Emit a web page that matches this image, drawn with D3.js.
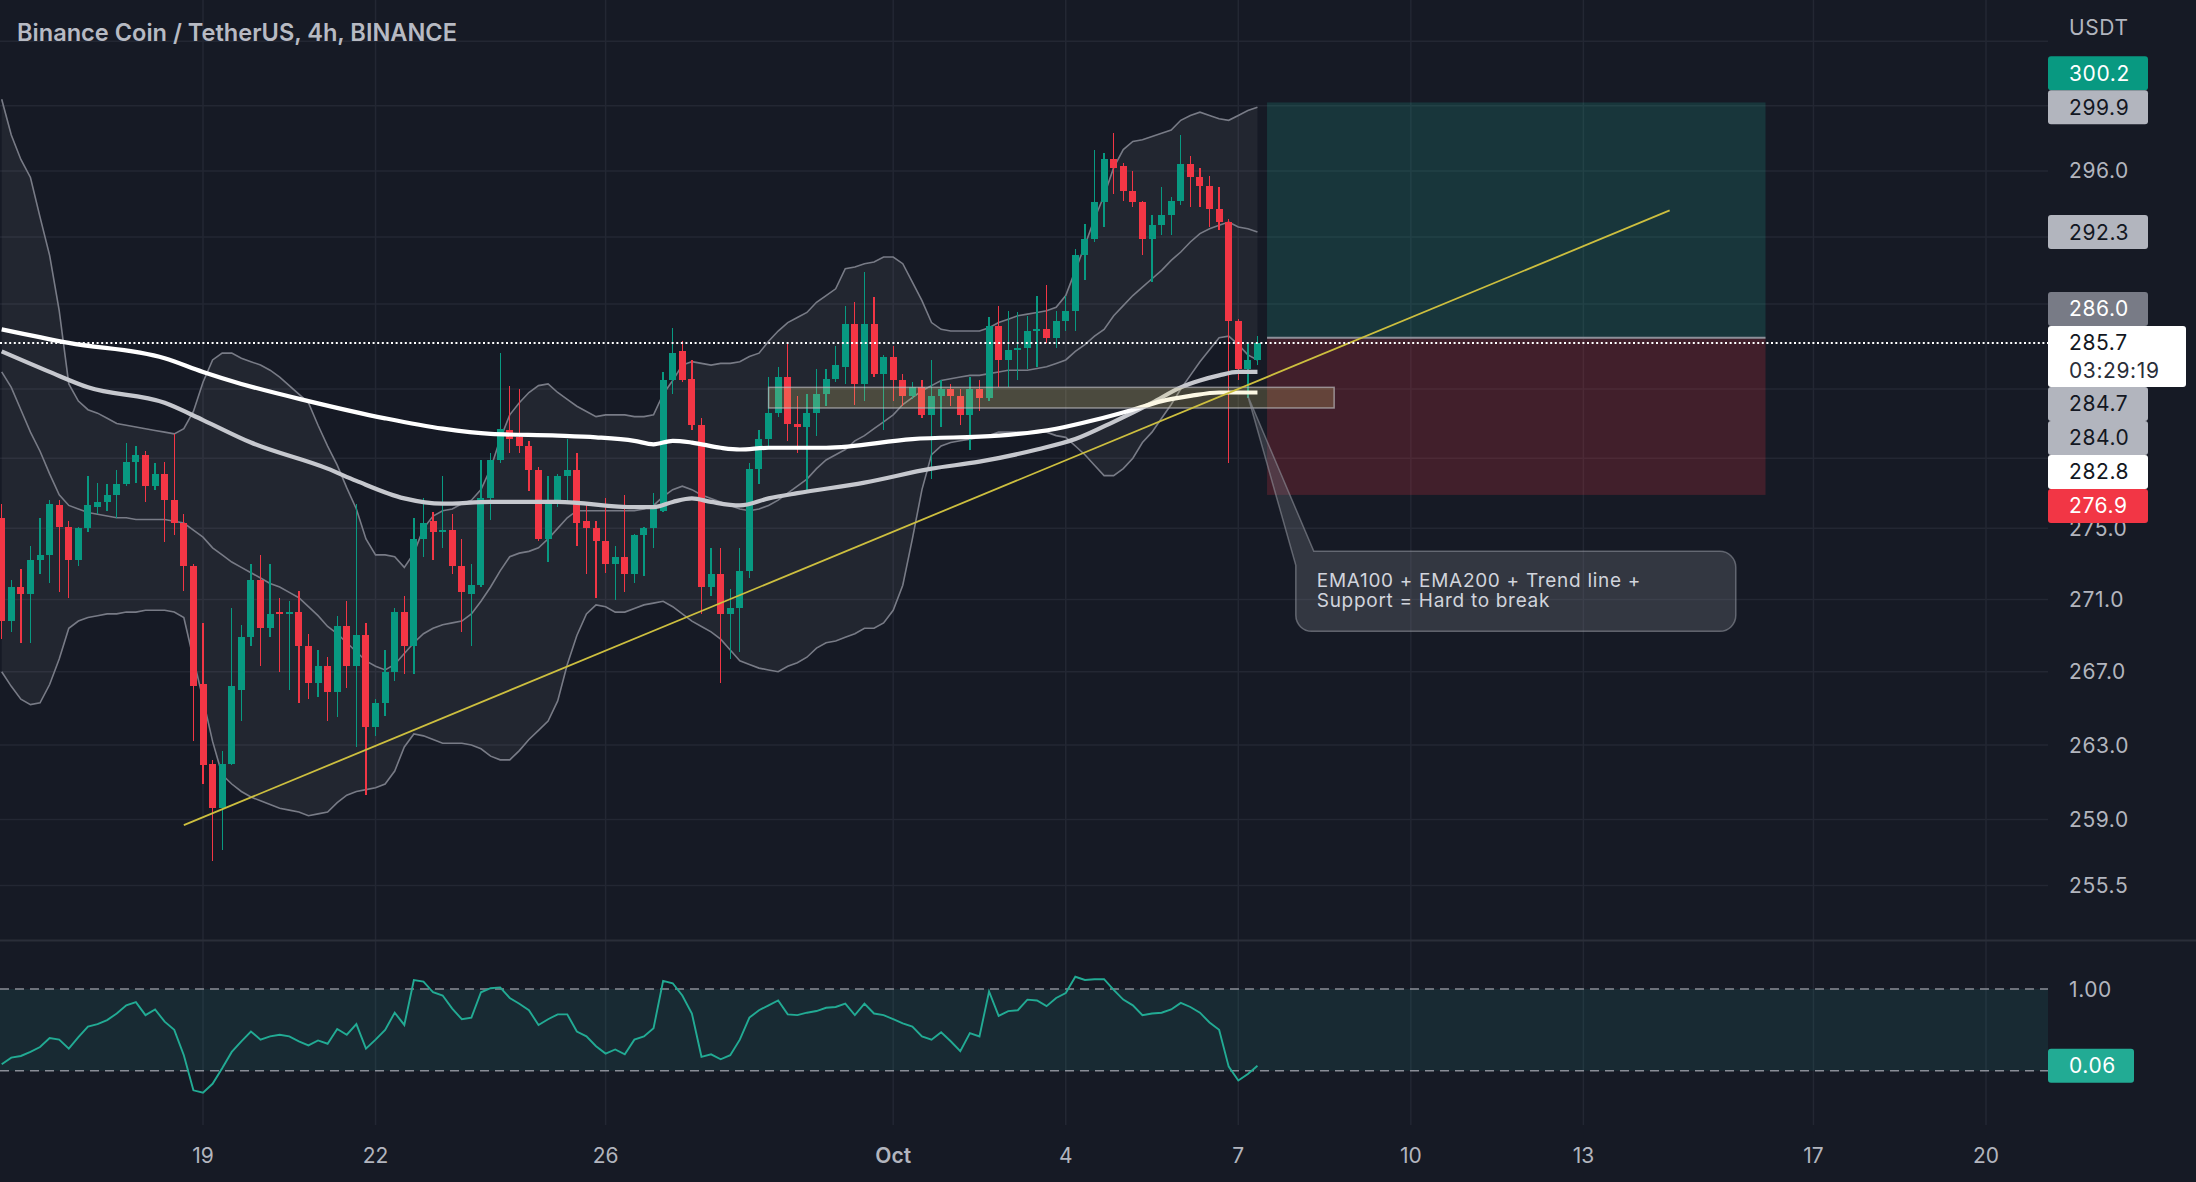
<!DOCTYPE html>
<html>
<head>
<meta charset="utf-8">
<script src="https://cdn.jsdelivr.net/npm/d3@7"></script>
<style>
  html, body { margin: 0; padding: 0; background: #161a25; }
  svg { display: block; }
  text { font-family: Inter, Roboto, sans-serif; }
</style>
</head>
<body>
<svg id="chart" width="2196" height="1182"></svg>
<script>
'use strict';

// BNB/USDT 4h bars, first visible bar 2022-09-15 12:00 UTC
const firstBar = Date.UTC(2022, 8, 15, 12);
const barMs = 4 * 3600 * 1000;

const open = [
  275.6, 269.8, 271.7, 271.3, 273.2, 273.5, 276.3, 275.1, 273.2, 275.0,
  276.2, 276.5, 276.9, 277.5, 278.8, 279.2, 277.4, 278.1, 276.6, 275.3,
  272.9, 266.3, 262.0, 259.6, 262.0, 266.0, 268.9, 272.1, 269.4, 270.3,
  270.2, 270.3, 268.4, 266.4, 267.3, 265.9, 269.5, 267.3, 269.0, 264.0,
  265.3, 267.0, 270.3, 268.4, 274.4, 275.4, 274.8, 274.9, 272.9, 271.3,
  271.8, 276.7, 278.9, 280.6, 280.2, 279.7, 278.3, 274.4, 276.4, 278.0,
  278.3, 275.4, 275.0, 274.3, 273.0, 273.4, 272.4, 274.6, 275.0, 276.0,
  283.5, 285.2, 283.6, 280.9, 271.7, 272.4, 270.2, 270.5, 272.6, 278.4,
  280.1, 281.6, 283.7, 281.0, 280.8, 281.6, 282.7, 283.6, 284.3, 286.8,
  283.3, 286.8, 283.9, 284.9, 283.5, 282.6, 283.1, 281.5, 282.6, 283.0,
  282.6, 281.5, 283.0, 282.5, 286.7, 284.7, 285.3, 285.4, 286.4, 286.5,
  286.0, 287.0, 287.6, 290.9, 291.9, 294.1, 296.7, 296.3, 294.8, 294.1,
  291.9, 292.7, 293.3, 294.2, 296.4, 295.6, 295.1, 293.7, 292.9, 287.0,
  284.2, 284.7
];
const high = [
  276.4, 272.1, 272.7, 274.0, 275.6, 276.6, 276.6, 275.4, 275.1, 278.0,
  277.6, 277.5, 278.3, 279.9, 279.7, 279.4, 278.7, 278.8, 280.4, 275.8,
  273.0, 269.7, 262.2, 262.7, 270.5, 269.6, 273.0, 273.5, 273.0, 271.1,
  270.9, 271.5, 269.1, 268.2, 267.8, 270.1, 270.9, 276.4, 269.7, 265.5,
  268.2, 270.5, 271.2, 275.6, 276.7, 275.9, 278.0, 275.8, 274.4, 273.0,
  278.9, 279.3, 285.1, 283.2, 283.0, 280.0, 278.5, 278.0, 278.1, 280.1,
  279.3, 276.3, 275.4, 276.7, 274.0, 276.9, 274.7, 275.1, 277.0, 284.0,
  286.6, 285.8, 284.7, 281.3, 273.9, 273.9, 271.6, 273.9, 278.7, 280.6,
  283.7, 284.3, 285.7, 282.6, 282.7, 284.2, 284.2, 285.5, 287.9, 288.1,
  289.9, 288.4, 285.0, 285.5, 283.9, 283.4, 283.5, 284.7, 283.5, 283.3,
  283.0, 283.7, 283.5, 287.2, 287.9, 287.6, 287.5, 287.3, 288.5, 289.1,
  287.6, 288.5, 291.3, 292.8, 297.3, 297.1, 298.3, 296.5, 296.0, 294.2,
  293.3, 295.0, 294.4, 298.2, 296.9, 296.2, 295.7, 295.0, 293.1, 287.1,
  285.7, 286.1
];
const low = [
  268.8, 269.2, 268.6, 268.6, 272.4, 271.9, 271.4, 271.1, 272.9, 274.8,
  275.8, 276.0, 275.6, 277.4, 277.6, 276.5, 277.2, 274.2, 274.6, 271.5,
  263.2, 260.9, 256.8, 257.4, 261.9, 264.3, 268.4, 267.3, 268.9, 267.0,
  266.0, 265.3, 265.5, 265.6, 264.3, 264.5, 266.1, 262.9, 260.3, 263.5,
  264.6, 266.5, 266.9, 266.9, 273.4, 273.2, 273.9, 272.4, 269.2, 268.4,
  271.7, 275.5, 278.7, 279.3, 279.3, 277.1, 274.3, 273.1, 276.2, 276.4,
  274.0, 272.4, 271.1, 272.5, 271.0, 271.4, 271.9, 272.3, 273.9, 275.9,
  282.7, 283.4, 280.6, 270.2, 271.2, 266.4, 267.7, 268.1, 272.2, 277.5,
  279.7, 281.4, 280.0, 279.3, 277.2, 280.3, 282.0, 283.4, 283.3, 282.1,
  282.3, 283.7, 280.6, 282.3, 282.0, 282.4, 281.3, 277.8, 280.8, 282.0,
  280.9, 279.5, 281.7, 282.3, 283.1, 283.1, 283.5, 284.2, 284.3, 285.7,
  285.4, 286.4, 286.4, 289.4, 291.7, 292.6, 294.6, 294.2, 293.8, 290.9,
  289.3, 292.1, 292.1, 293.9, 293.8, 293.8, 292.6, 292.4, 278.7, 283.5,
  282.5, 284.4
];
const close = [
  269.8, 271.7, 271.3, 273.2, 273.5, 276.4, 275.1, 273.2, 275.0, 276.3,
  276.5, 276.9, 277.5, 278.8, 279.2, 277.4, 278.1, 276.6, 275.3, 272.9,
  266.2, 261.9, 259.6, 262.0, 266.2, 268.9, 272.1, 269.4, 270.2, 270.2,
  270.3, 268.4, 266.4, 267.3, 265.9, 269.5, 267.3, 269.0, 264.0, 265.3,
  267.0, 270.3, 268.4, 274.4, 275.3, 274.8, 274.9, 272.9, 271.4, 271.8,
  276.7, 278.9, 280.7, 280.1, 279.7, 278.3, 274.4, 276.4, 278.0, 278.3,
  275.3, 275.0, 274.3, 273.0, 273.4, 272.4, 274.6, 275.0, 276.2, 283.5,
  285.1, 283.5, 280.9, 271.7, 272.4, 270.2, 270.5, 272.6, 278.4, 280.1,
  281.6, 283.7, 281.0, 280.8, 281.6, 282.7, 283.6, 284.4, 286.8, 283.3,
  286.8, 283.9, 284.9, 283.5, 282.6, 283.1, 281.5, 282.6, 283.0, 282.6,
  281.5, 283.0, 282.5, 286.7, 284.7, 285.3, 285.4, 286.4, 286.5, 286.0,
  287.0, 287.6, 290.9, 291.9, 294.1, 296.7, 296.2, 294.8, 294.1, 291.9,
  292.7, 293.3, 294.2, 296.4, 295.6, 295.1, 293.7, 292.9, 287.0, 284.2,
  284.7, 285.7
];

// Bollinger bands, one value per bar
const bbUpper = [
  300.4, 298.2, 296.7, 295.6, 293.2, 290.9, 287.6, 283.3, 282.3, 281.8,
  281.6, 281.3, 281.0, 280.9, 280.8, 280.7, 280.6, 280.5, 280.4, 280.7,
  281.7, 283.4, 284.7, 285.1, 285.1, 284.8, 284.6, 284.4, 284.1, 283.7,
  283.2, 282.7, 282.2, 280.9, 279.7, 278.6, 277.3, 276.1, 274.4, 273.5,
  273.5, 273.4, 272.8, 273.6, 275.0, 275.7, 276.0, 276.1, 276.4, 276.6,
  277.2, 278.4, 280.1, 281.5, 282.2, 282.8, 283.2, 283.3, 282.8, 282.4,
  282.0, 281.7, 281.4, 281.5, 281.5, 281.5, 281.4, 281.4, 281.5, 282.7,
  283.5, 284.4, 284.6, 284.5, 284.4, 284.5, 284.5, 284.6, 284.9, 285.1,
  285.8, 286.4, 286.9, 287.2, 287.5, 288.1, 288.5, 288.9, 290.1, 290.2,
  290.4, 290.5, 290.8, 290.8, 290.4, 289.3, 288.2, 286.9, 286.5, 286.4,
  286.4, 286.4, 286.4, 286.6, 286.9, 287.1, 287.3, 287.4, 287.5, 287.6,
  287.8, 288.5, 290.0, 291.5, 293.1, 294.5, 296.2, 297.3, 297.8, 297.9,
  298.1, 298.3, 298.5, 299.1, 299.4, 299.6, 299.4, 299.2, 299.1, 299.4,
  299.7, 299.9
];
const bbBasis = [
  284.0, 283.1, 281.8, 280.5, 279.4, 278.1, 276.9, 276.3, 276.1, 275.9,
  275.8, 275.7, 275.6, 275.6, 275.5, 275.5, 275.5, 275.5, 275.4, 275.3,
  274.9, 274.5, 273.9, 273.5, 273.1, 272.8, 272.5, 272.2, 271.9, 271.7,
  271.4, 271.1, 270.6, 270.1, 269.5, 269.1, 268.6, 268.1, 267.6, 267.3,
  267.1, 267.4, 268.0, 268.6, 269.1, 269.4, 269.6, 269.7, 269.8, 270.2,
  270.9, 271.7, 272.6, 273.4, 273.6, 273.7, 273.9, 274.4, 275.0, 275.6,
  276.0, 276.0, 276.0, 276.0, 276.0, 276.0, 276.0, 276.1, 276.3, 276.8,
  277.2, 277.4, 277.2, 276.9, 276.7, 276.5, 276.3, 276.1, 276.0, 276.1,
  276.3, 276.6, 277.0, 277.4, 277.8, 278.4, 278.9, 279.2, 279.5, 280.0,
  280.3, 280.7, 281.1, 281.5, 282.1, 282.5, 282.9, 283.2, 283.5, 283.6,
  283.7, 283.8, 283.8, 283.9, 284.0, 284.1, 284.1, 284.1, 284.2, 284.3,
  284.5, 284.7, 285.2, 285.6, 286.1, 286.5, 287.3, 287.9, 288.5, 289.0,
  289.5, 290.0, 290.6, 291.1, 291.7, 292.2, 292.5, 292.7, 292.9, 292.6,
  292.5, 292.3
];
const bbLower = [
  267.0, 266.2, 265.5, 265.2, 265.3, 266.3, 267.7, 269.4, 269.8, 270.0,
  270.1, 270.2, 270.2, 270.3, 270.3, 270.4, 270.4, 270.4, 270.3, 270.0,
  267.7, 265.5, 263.2, 261.4, 260.9, 260.5, 260.2, 260.0, 259.8, 259.6,
  259.5, 259.4, 259.2, 259.3, 259.4, 259.9, 260.3, 260.5, 260.6, 260.7,
  260.9, 261.6, 262.9, 263.6, 263.5, 263.3, 263.1, 263.1, 263.1, 263.0,
  262.8, 262.4, 262.2, 262.2, 262.7, 263.3, 263.8, 264.3, 265.4, 267.4,
  269.0, 270.2, 270.7, 270.6, 270.3, 270.3, 270.5, 270.7, 270.8, 270.9,
  270.6, 270.2, 269.8, 269.5, 269.2, 268.8, 268.2, 267.6, 267.4, 267.2,
  267.1, 267.0, 267.3, 267.5, 267.8, 268.3, 268.6, 268.7, 268.9, 269.1,
  269.4, 269.4, 269.7, 270.4, 271.8, 274.4, 277.2, 279.2, 279.7, 279.9,
  280.0, 280.1, 280.2, 280.3, 280.5, 280.5, 280.5, 280.5, 280.5, 280.5,
  280.3, 280.2, 279.7, 279.2, 278.6, 278.0, 278.0, 278.4, 279.0, 279.9,
  280.5, 281.3, 282.1, 283.0, 283.8, 284.6, 285.3, 286.0, 286.1, 285.6,
  285.0, 284.7
];

// moving averages read at some bars: [bar, price]
const ema100 = [
  [0, 285.2], [5, 284.0], [9, 283.1], [17, 282.2], [21, 281.2], [26, 279.9],
  [34, 278.4], [37, 277.7], [42, 276.7], [46, 276.4], [51, 276.5], [58, 276.5],
  [66, 276.2], [68, 276.2], [70, 276.5], [72, 276.7], [74, 276.5], [77, 276.3],
  [80, 276.7], [83, 277.0], [90, 277.6], [97, 278.4], [102, 278.8], [108, 279.5],
  [112, 280.1], [116, 281.1], [120, 282.2], [123, 283.1], [125, 283.5],
  [127, 283.8], [129, 284.0], [131, 284.0]
];
const ema200 = [
  [0, 286.5], [7, 285.7], [17, 284.8], [21, 284.0], [25, 283.3], [32, 282.3],
  [40, 281.3], [46, 280.7], [51, 280.4], [58, 280.3], [62, 280.2], [66, 280.0],
  [68, 279.8], [70, 280.0], [72, 279.9], [75, 279.6], [77, 279.5], [80, 279.6],
  [86, 279.6], [95, 280.1], [104, 280.3], [110, 280.7], [114, 281.2],
  [118, 281.8], [121, 282.3], [124, 282.6], [127, 282.8], [131, 282.8]
];

// lower pane oscillator, one value per bar
const osc = [
  0.08, 0.16, 0.18, 0.23, 0.29, 0.40, 0.38, 0.27, 0.41, 0.54,
  0.57, 0.62, 0.70, 0.80, 0.84, 0.68, 0.75, 0.60, 0.50, 0.19,
  -0.24, -0.27, -0.16, 0.03, 0.23, 0.36, 0.48, 0.38, 0.42, 0.44,
  0.42, 0.36, 0.31, 0.37, 0.33, 0.51, 0.44, 0.57, 0.27, 0.38,
  0.50, 0.71, 0.56, 1.11, 1.09, 0.96, 0.92, 0.76, 0.63, 0.65,
  0.96, 1.01, 1.02, 0.89, 0.82, 0.74, 0.56, 0.63, 0.69, 0.69,
  0.48, 0.42, 0.30, 0.21, 0.26, 0.20, 0.38, 0.42, 0.52, 1.10,
  1.07, 0.92, 0.70, 0.17, 0.20, 0.14, 0.19, 0.38, 0.65, 0.74,
  0.80, 0.86, 0.69, 0.68, 0.71, 0.73, 0.77, 0.78, 0.82, 0.68,
  0.82, 0.70, 0.68, 0.63, 0.58, 0.54, 0.42, 0.38, 0.47, 0.36,
  0.24, 0.46, 0.42, 0.97, 0.67, 0.73, 0.74, 0.87, 0.86, 0.79,
  0.89, 0.95, 1.15, 1.11, 1.12, 1.12, 0.99, 0.87, 0.80, 0.68,
  0.70, 0.71, 0.75, 0.83, 0.78, 0.71, 0.59, 0.50, 0.05, -0.12,
  -0.04, 0.06
];
const oscBands = [1, 0];

const priceTicks = [304.0, 300.0, 296.0, 292.0, 288.0, 283.0, 279.0, 275.0, 271.0, 267.0, 263.0, 259.0, 255.5];
const dateTicks = ['2022-09-19', '2022-09-22', '2022-09-26', '2022-10-01', '2022-10-04', '2022-10-07', '2022-10-10', '2022-10-13', '2022-10-17', '2022-10-20'];
const dateLabels = ['19', '22', '26', 'Oct', '4', '7', '10', '13', '17', '20'];

// drawings
const position = { fromBar: 132, toBar: 184, target: 300.2, entry: 286.0, stop: 276.9 };
const supportZone = { fromBar: 80, toBar: 139, top: 283.1, bottom: 281.9 };
const trendLine = [[19, 258.7], [174, 293.6]];
const note = { bar: 130, price: 282.6, boxBar: 135, boxPrice: 273.7,
  lines: ['EMA100 + EMA200 + Trend line +', 'Support = Hard to break'] };
const countdown = '03:29:19';

// ---- layout ----
const plotW = 2048, mainBottom = 940, subTop = 942, subBottom = 1125;
const axisTextX = 2069;
const colors = { up: '#089981', down: '#f23645', grid: '#232733', text: '#b2b5be' };

const svg = d3.select('#chart');
svg.append('rect').attr('width', 2196).attr('height', 1182).attr('fill', '#161a25');

const barTime = (i) => new Date(firstBar + i * barMs);
const x = d3.scaleUtc()
  .domain([new Date(Date.UTC(2022, 8, 19)), new Date(Date.UTC(2022, 9, 20))])
  .range([203, 1986]);
const bx = (i) => x(barTime(i));
const y = d3.scaleLog().domain([296, 255.5]).range([170.9, 885.6]);
const ys = d3.scaleLinear().domain([0, 1]).range([1070.7, 989]);

const defs = svg.append('defs');
defs.append('clipPath').attr('id', 'clipMain')
  .append('rect').attr('x', 0).attr('y', 0).attr('width', plotW).attr('height', mainBottom);
defs.append('clipPath').attr('id', 'clipSub')
  .append('rect').attr('x', 0).attr('y', subTop).attr('width', plotW).attr('height', subBottom - subTop);

// grid
const grid = svg.append('g').attr('stroke', colors.grid).attr('stroke-width', 1.5);
grid.selectAll('.h').data(priceTicks).join('line')
  .attr('x1', 0).attr('x2', plotW)
  .attr('y1', (d) => y(d)).attr('y2', (d) => y(d));
grid.selectAll('.v').data(dateTicks).join('line')
  .attr('x1', (d) => x(new Date(d))).attr('x2', (d) => x(new Date(d)))
  .attr('y1', 0).attr('y2', subBottom);

const main = svg.append('g').attr('clip-path', 'url(#clipMain)');
const bars = d3.range(open.length);

// bollinger bands
main.append('path')
  .datum(bars)
  .attr('fill', 'rgba(255,255,255,0.055)')
  .attr('d', d3.area().x(bx).y0((i) => y(bbLower[i])).y1((i) => y(bbUpper[i])));
[bbUpper, bbBasis, bbLower].forEach((band) => {
  main.append('path')
    .datum(bars)
    .attr('fill', 'none')
    .attr('stroke', '#787b86')
    .attr('stroke-width', 1.6)
    .attr('d', d3.line().x(bx).y((i) => y(band[i])));
});

// candles
const candles = main.append('g').attr('shape-rendering', 'crispEdges');
const isUp = (i) => close[i] >= open[i];
candles.selectAll('line').data(bars).join('line')
  .attr('x1', (i) => bx(i)).attr('x2', (i) => bx(i))
  .attr('y1', (i) => y(high[i])).attr('y2', (i) => y(low[i]))
  .attr('stroke', (i) => (isUp(i) ? colors.up : colors.down))
  .attr('stroke-width', 1.3);
candles.selectAll('rect').data(bars).join('rect')
  .attr('x', (i) => bx(i) - 3.5)
  .attr('width', 7)
  .attr('y', (i) => y(Math.max(open[i], close[i])))
  .attr('height', (i) => Math.max(1, y(Math.min(open[i], close[i])) - y(Math.max(open[i], close[i]))))
  .attr('fill', (i) => (isUp(i) ? colors.up : colors.down));

// moving averages
const maLine = d3.line().x((d) => bx(d[0])).y((d) => y(d[1])).curve(d3.curveMonotoneX);
main.append('path').datum(ema100)
  .attr('fill', 'none').attr('stroke', '#c6c8ce').attr('stroke-width', 4.2)
  .attr('stroke-linejoin', 'round').attr('d', maLine);
main.append('path').datum(ema200)
  .attr('fill', 'none').attr('stroke', '#ffffff').attr('stroke-width', 4.2)
  .attr('stroke-linejoin', 'round').attr('d', maLine);

// long position tool
const px0 = bx(position.fromBar), px1 = bx(position.toBar);
main.append('rect')
  .attr('x', px0).attr('width', px1 - px0)
  .attr('y', y(position.target)).attr('height', y(position.entry) - y(position.target))
  .attr('fill', 'rgba(34,171,148,0.2)');
main.append('rect')
  .attr('x', px0).attr('width', px1 - px0)
  .attr('y', y(position.entry)).attr('height', y(position.stop) - y(position.entry))
  .attr('fill', 'rgba(242,54,69,0.2)');
main.append('line')
  .attr('x1', px0).attr('x2', px1)
  .attr('y1', y(position.entry)).attr('y2', y(position.entry))
  .attr('stroke', '#8d909a').attr('stroke-width', 2);

// support zone
main.append('rect')
  .attr('x', bx(supportZone.fromBar)).attr('width', bx(supportZone.toBar) - bx(supportZone.fromBar))
  .attr('y', y(supportZone.top)).attr('height', y(supportZone.bottom) - y(supportZone.top))
  .attr('fill', 'rgba(240,220,120,0.2)')
  .attr('stroke', 'rgba(190,190,195,0.65)').attr('stroke-width', 1.5);

// trend line
main.append('line')
  .attr('x1', bx(trendLine[0][0])).attr('y1', y(trendLine[0][1]))
  .attr('x2', bx(trendLine[1][0])).attr('y2', y(trendLine[1][1]))
  .attr('stroke', '#cdbf3f').attr('stroke-width', 1.8);

// last price line
const last = close[close.length - 1];
main.append('line')
  .attr('x1', 0).attr('x2', plotW)
  .attr('y1', y(last)).attr('y2', y(last))
  .attr('stroke', '#ffffff').attr('stroke-width', 2)
  .attr('stroke-dasharray', '2 2.6');

// callout
const cL = bx(note.boxBar), cT = y(note.boxPrice), cW = 440, cH = 80, cR = 16;
const tipX = bx(note.bar), tipY = y(note.price);
main.append('path')
  .attr('d', `M${tipX},${tipY} L${cL + 18},${cT} H${cL + cW - cR} ` +
    `A${cR},${cR} 0 0 1 ${cL + cW},${cT + cR} V${cT + cH - cR} ` +
    `A${cR},${cR} 0 0 1 ${cL + cW - cR},${cT + cH} H${cL + cR} ` +
    `A${cR},${cR} 0 0 1 ${cL},${cT + cH - cR} V${cT + 14} Z`)
  .attr('fill', 'rgba(120,123,134,0.3)')
  .attr('stroke', 'rgba(150,153,162,0.55)').attr('stroke-width', 1.5);
main.append('g').selectAll('text').data(note.lines).join('text')
  .attr('x', cL + 21).attr('y', (d, k) => cT + 36 + k * 20)
  .attr('fill', '#d1d4dc').attr('font-size', 19).attr('letter-spacing', 0.7)
  .text((d) => d);

// pane separator
svg.append('line')
  .attr('x1', 0).attr('x2', 2196).attr('y1', 940.5).attr('y2', 940.5)
  .attr('stroke', '#2a2e39').attr('stroke-width', 2);

// lower pane
const sub = svg.append('g').attr('clip-path', 'url(#clipSub)');
sub.append('rect')
  .attr('x', 0).attr('width', plotW)
  .attr('y', ys(oscBands[0])).attr('height', ys(oscBands[1]) - ys(oscBands[0]))
  .attr('fill', 'rgba(38,166,154,0.12)');
sub.selectAll('.band').data(oscBands).join('line')
  .attr('x1', 0).attr('x2', plotW)
  .attr('y1', (d) => ys(d)).attr('y2', (d) => ys(d))
  .attr('stroke', '#8a8d97').attr('stroke-width', 1.6)
  .attr('stroke-dasharray', '9 6');
sub.append('path').datum(bars)
  .attr('fill', 'none').attr('stroke', '#22ab94').attr('stroke-width', 1.9)
  .attr('d', d3.line().x(bx).y((i) => ys(osc[i])));

// price labels on the axis, stacked around the last price
const labels = [
  { p: position.target, bg: '#089981', fg: '#ffffff' },
  { p: bbUpper[bbUpper.length - 1], bg: '#b2b5be', fg: '#131722' },
  { p: bbBasis[bbBasis.length - 1], bg: '#b2b5be', fg: '#131722' },
  { p: position.entry, bg: '#787b86', fg: '#ffffff' },
  { p: bbLower[bbLower.length - 1], bg: '#b2b5be', fg: '#131722' },
  { p: ema100[ema100.length - 1][1], bg: '#b2b5be', fg: '#131722' },
  { p: ema200[ema200.length - 1][1], bg: '#ffffff', fg: '#131722' },
  { p: position.stop, bg: '#f23645', fg: '#ffffff' },
];
const lh = 34;
const anchorTop = y(last) - 17, anchorBottom = anchorTop + 61;
let limit = anchorTop;
labels.filter((l) => l.p > last).sort((a, b) => a.p - b.p).forEach((l) => {
  l.top = Math.min(y(l.p) - lh / 2, limit - lh);
  limit = l.top;
});
limit = anchorBottom;
labels.filter((l) => l.p <= last).sort((a, b) => b.p - a.p).forEach((l) => {
  l.top = Math.max(y(l.p) - lh / 2, limit);
  limit = l.top + lh;
});

// tick labels that the label boxes (or the currency title) cover are not drawn
const covers = labels.map((l) => [l.top, l.top + lh]).concat([[anchorTop, anchorBottom], [0, 50]]);
const visibleTicks = priceTicks.filter((t) =>
  covers.every((c) => y(t) < c[0] - 6 || y(t) > c[1] + 4));
svg.append('g').selectAll('text').data(visibleTicks).join('text')
  .attr('x', axisTextX).attr('y', (d) => y(d)).attr('dy', '0.36em')
  .attr('fill', colors.text).attr('font-size', 21).attr('letter-spacing', 0.6)
  .text((d) => d.toFixed(1));
svg.append('text')
  .attr('x', axisTextX).attr('y', 35)
  .attr('fill', colors.text).attr('font-size', 21).attr('letter-spacing', 0.6)
  .text('USDT');

const lg = svg.append('g');
labels.forEach((l) => {
  lg.append('rect').attr('x', plotW).attr('y', l.top).attr('width', 100).attr('height', lh)
    .attr('rx', 3).attr('fill', l.bg);
  lg.append('text').attr('x', axisTextX).attr('y', l.top + lh / 2).attr('dy', '0.36em')
    .attr('fill', l.fg).attr('font-size', 21).attr('letter-spacing', 0.6)
    .text(l.p.toFixed(1));
});
lg.append('rect').attr('x', plotW).attr('y', anchorTop).attr('width', 138).attr('height', 61)
  .attr('rx', 3).attr('fill', '#ffffff');
lg.append('text').attr('x', axisTextX).attr('y', anchorTop + 17).attr('dy', '0.36em')
  .attr('fill', '#131722').attr('font-size', 21).attr('letter-spacing', 0.6).text(last.toFixed(1));
lg.append('text').attr('x', axisTextX).attr('y', anchorTop + 45).attr('dy', '0.36em')
  .attr('fill', '#2a2e39').attr('font-size', 21).attr('letter-spacing', 0.6).text(countdown);

// date labels
svg.append('g').selectAll('text').data(dateTicks).join('text')
  .attr('x', (d) => x(new Date(d))).attr('y', 1163)
  .attr('text-anchor', 'middle')
  .attr('fill', colors.text).attr('font-size', 21)
  .attr('font-weight', (d, k) => (dateLabels[k] === 'Oct' ? 600 : 400))
  .text((d, k) => dateLabels[k]);

// lower pane axis
const oscLast = osc[osc.length - 1];
svg.append('text')
  .attr('x', axisTextX).attr('y', ys(oscBands[0])).attr('dy', '0.36em')
  .attr('fill', colors.text).attr('font-size', 21).attr('letter-spacing', 0.6)
  .text(oscBands[0].toFixed(2));
svg.append('rect').attr('x', plotW).attr('y', ys(oscLast) - 17).attr('width', 86).attr('height', 34)
  .attr('rx', 3).attr('fill', '#22ab94');
svg.append('text')
  .attr('x', axisTextX).attr('y', ys(oscLast)).attr('dy', '0.36em')
  .attr('fill', '#ffffff').attr('font-size', 21).attr('letter-spacing', 0.6)
  .text(oscLast.toFixed(2));

// title
svg.append('text')
  .attr('x', 17).attr('y', 41)
  .attr('fill', '#b7bac3')
  .attr('font-family', '"Open Sans", sans-serif')
  .attr('font-weight', 600).attr('font-size', 24)
  .attr('textLength', 440).attr('lengthAdjust', 'spacingAndGlyphs')
  .text('Binance Coin / TetherUS, 4h, BINANCE');
</script>
</body>
</html>
